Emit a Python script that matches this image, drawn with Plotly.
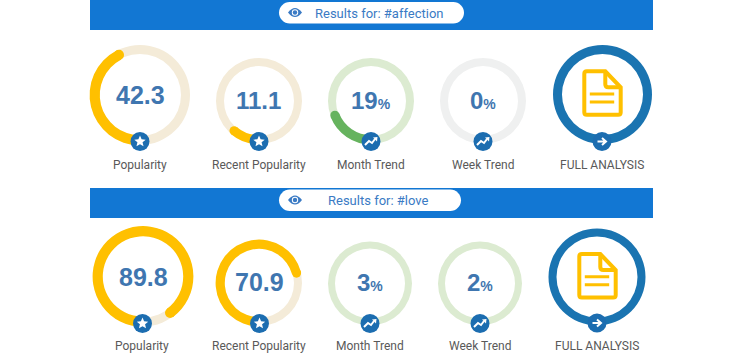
import math
import plotly.graph_objects as go

# ---- data ----
metric_labels = ["Popularity", "Recent Popularity", "Month Trend", "Week Trend", "FULL ANALYSIS"]
hashtags = ["#affection", "#love"]
affection_values = [42.3, 11.1, 19, 0]
love_values = [89.8, 70.9, 3, 2]
affection_text = ["42.3", "11.1", "19", "0"]
love_text = ["89.8", "70.9", "3", "2"]
value_suffix = ["", "", "%", "%"]

# ---- layout geometry (pixels): cx, cy, radius, thickness ----
W, H = 743, 360
row1_rings = [(140, 95, 50, 9), (259, 101, 43, 8), (371, 101, 43, 8), (483, 101, 43, 8), (602.5, 94.5, 49.5, 9)]
row2_rings = [(143, 276.5, 50, 9), (259, 283, 43, 8), (370, 283.5, 42, 7), (480, 283.5, 42, 7), (597, 277, 48.5, 8)]
row1_text_xy = [(140, 95), (258, 100), (371, 100), (483, 100)]
row2_text_xy = [(143, 277), (259, 282), (370, 282), (480, 282)]
row1_badge_xy = [(140, 141.5), (259, 141.5), (371, 141.5), (483, 141.5), (602, 141.5)]
row2_badge_xy = [(142.5, 323.5), (259.5, 323.5), (370, 323.5), (480, 323.5), (597, 323)]
row1_label_xy = [(140, 164.5), (259, 164.5), (371, 164.5), (483, 164.5), (602, 164.5)]
row2_label_xy = [(142, 345.5), (259, 345.5), (370, 345.5), (480, 345.5), (597, 345.5)]

BLUE = "#1277d3"
BADGE = "#1c6db0"
RING_BLUE = "#1a74b1"
GOLD = "#ffc000"
BEIGE = "#f4ebd8"
GREEN = "#66b35e"
GREEN_TRACK = "#dcebd1"
GREY_TRACK = "#eff0f0"
TEXT = "#595959"
VALUE = "#3f76b0"
LINK = "#3a7ac4"

fig = go.Figure()
shapes = []
ann = []


def add_ring(cx, cy, r, t, vals, colors):
    fig.add_trace(go.Pie(
        values=vals, sort=False, direction="clockwise", rotation=180,
        hole=(r - t) / r, marker=dict(colors=colors, line=dict(width=0)),
        textinfo="none", hoverinfo="skip", showlegend=False,
        domain=dict(x=[(cx - r) / W, (cx + r) / W], y=[1 - (cy + r) / H, 1 - (cy - r) / H]),
    ))


def circle(cx, cy, r, color):
    shapes.append(dict(type="circle", xref="x", yref="y", x0=cx - r, x1=cx + r, y0=cy - r, y1=cy + r,
                       fillcolor=color, line=dict(width=0), layer="above"))


def path(d, fill=None, stroke=None, w=0):
    s = dict(type="path", xref="x", yref="y", path=d, layer="above", line=dict(width=w, color=stroke or "rgba(0,0,0,0)"))
    if fill:
        s["fillcolor"] = fill
    shapes.append(s)


def pill(x0, x1, y0, y1):
    r = (y1 - y0) / 2
    k = r * 0.55
    path(f"M{x0+r},{y0} L{x1-r},{y0} C{x1-r+k},{y0} {x1},{y0+r-k} {x1},{y0+r} "
         f"C{x1},{y1-r+k} {x1-r+k},{y1} {x1-r},{y1} L{x0+r},{y1} "
         f"C{x0+r-k},{y1} {x0},{y1-r+k} {x0},{y0+r} C{x0},{y0+r-k} {x0+r-k},{y0} {x0+r},{y0} Z", fill="white")


def eye(cx, cy):
    path(f"M{cx-7},{cy} Q{cx},{cy-9} {cx+7},{cy} Q{cx},{cy+9} {cx-7},{cy} Z", fill=LINK)
    circle(cx, cy, 3.2, "white")
    circle(cx, cy, 2.2, LINK)


def star(cx, cy, R=6, q=2.7):
    pts = []
    for i in range(10):
        a = math.pi * i / 5
        rr = R if i % 2 == 0 else q
        pts.append(f"{cx + rr*math.sin(a):.2f},{cy - rr*math.cos(a):.2f}")
    path("M" + " L".join(pts) + " Z", fill="white")


def trend(cx, cy):
    path(f"M{cx-6},{cy+3.5} L{cx-2},{cy-0.5} L{cx+1},{cy+1.5} L{cx+4},{cy-2.5}", stroke="white", w=2)
    path(f"M{cx+2},{cy-4} L{cx+6.5},{cy-4.5} L{cx+6},{cy} Z", fill="white")


def arrow(cx, cy):
    path(f"M{cx-4.5},{cy} L{cx+3.5},{cy} M{cx},{cy-3.5} L{cx+4},{cy} L{cx},{cy+3.5}", stroke="white", w=2)


def doc(x0, y0):
    x1, y1 = x0 + 36.4, y0 + 43.4
    fx, fy = x0 + 21, y0 + 16
    c = 2.5
    path(f"M{x0+c},{y0} L{fx},{y0} L{x1},{fy} L{x1},{y1-c} Q{x1},{y1} {x1-c},{y1} "
         f"L{x0+c},{y1} Q{x0},{y1} {x0},{y1-c} L{x0},{y0+c} Q{x0},{y0} {x0+c},{y0} Z", stroke=GOLD, w=4)
    path(f"M{fx},{y0} L{fx},{fy-3} Q{fx},{fy} {fx+3},{fy} L{x1},{fy}", stroke=GOLD, w=4)
    path(f"M{x0+5.5},{y0+22.7} L{x1-6.5},{y0+22.7} M{x0+5.5},{y0+30.7} L{x1-6.5},{y0+30.7}", stroke=GOLD, w=3)


def text(x, y, s, size, color, family="Roboto"):
    ann.append(dict(xref="x", yref="y", x=x, y=y, text=s, showarrow=False, xanchor="center", yanchor="middle",
                    font=dict(family=family, size=size, color=color)))


def row(tag, banner, pill_box, pill_text_x, eye_xy, values, vtext, rings, text_xy, badges, labels_xy, doc_xy, sizes, tracks):
    shapes.append(dict(type="rect", xref="x", yref="y", x0=90, x1=653, y0=banner[0], y1=banner[1],
                       fillcolor=BLUE, line=dict(width=0), layer="below"))
    pill(*pill_box)
    eye(*eye_xy)
    text(pill_text_x, eye_xy[1] + 0.5, f"Results for: {tag}", 13, LINK)
    for i, v in enumerate(values):
        cx, cy, r, t = rings[i]
        fill = GOLD if i < 2 else GREEN
        add_ring(cx, cy, r, t, [100], [tracks[i]])
        # the coloured arc is slightly wider than its track
        add_ring(cx, cy, r + 0.4, t + 1.2, [v, 100 - v], [fill, "rgba(0,0,0,0)"])
        if v > 5:
            a = 2 * math.pi * v / 100
            rm = r - t / 2 - 0.2
            circle(cx - rm * math.sin(a), cy + rm * math.cos(a), t / 2 + 0.6, fill)
        s = f"<b>{vtext[i]}</b>"
        if value_suffix[i]:
            s += f"<b><span style='font-size:14px'>{value_suffix[i]}</span></b>"
        text(text_xy[i][0], text_xy[i][1], s, sizes[i], VALUE, "Liberation Sans")
    cx, cy, r, t = rings[4]
    add_ring(cx, cy, r, t, [100], [RING_BLUE])
    doc(*doc_xy)
    for i, (bx, by) in enumerate(badges):
        circle(bx, by, 9.5, BADGE)
        if i < 2:
            star(bx, by)
        elif i < 4:
            trend(bx, by)
        else:
            arrow(bx, by)
    for lab, (lx, ly) in zip(metric_labels, labels_xy):
        text(lx, ly, lab, 12, TEXT)


row(hashtags[0], (0, 30), (279, 464, 2, 23.5), 379, (295, 12.5), affection_values, affection_text,
    row1_rings, row1_text_xy, row1_badge_xy, row1_label_xy, (584.3, 71.3),
    [25, 24, 24, 24], [BEIGE, BEIGE, GREEN_TRACK, GREY_TRACK])
row(hashtags[1], (188, 218), (279, 461, 189.5, 211), 378, (295, 200), love_values, love_text,
    row2_rings, row2_text_xy, row2_badge_xy, row2_label_xy, (579.3, 254),
    [25, 25, 24, 24], [BEIGE, BEIGE, GREEN_TRACK, GREEN_TRACK])

# invisible trace keeps the pixel axes alive for shapes and annotations
fig.add_trace(go.Scatter(x=[0, W], y=[0, H], mode="markers", marker=dict(opacity=0), hoverinfo="skip", showlegend=False))

fig.update_layout(
    width=W, height=H, margin=dict(l=0, r=0, t=0, b=0), paper_bgcolor="white", plot_bgcolor="white",
    xaxis=dict(range=[0, W], visible=False, fixedrange=True),
    yaxis=dict(range=[H, 0], visible=False, fixedrange=True),
    shapes=shapes, annotations=ann,
)
fig.write_html("out.html", config={"displayModeBar": False},
               post_script="document.body.style.margin='0';document.body.style.overflow='hidden';")
